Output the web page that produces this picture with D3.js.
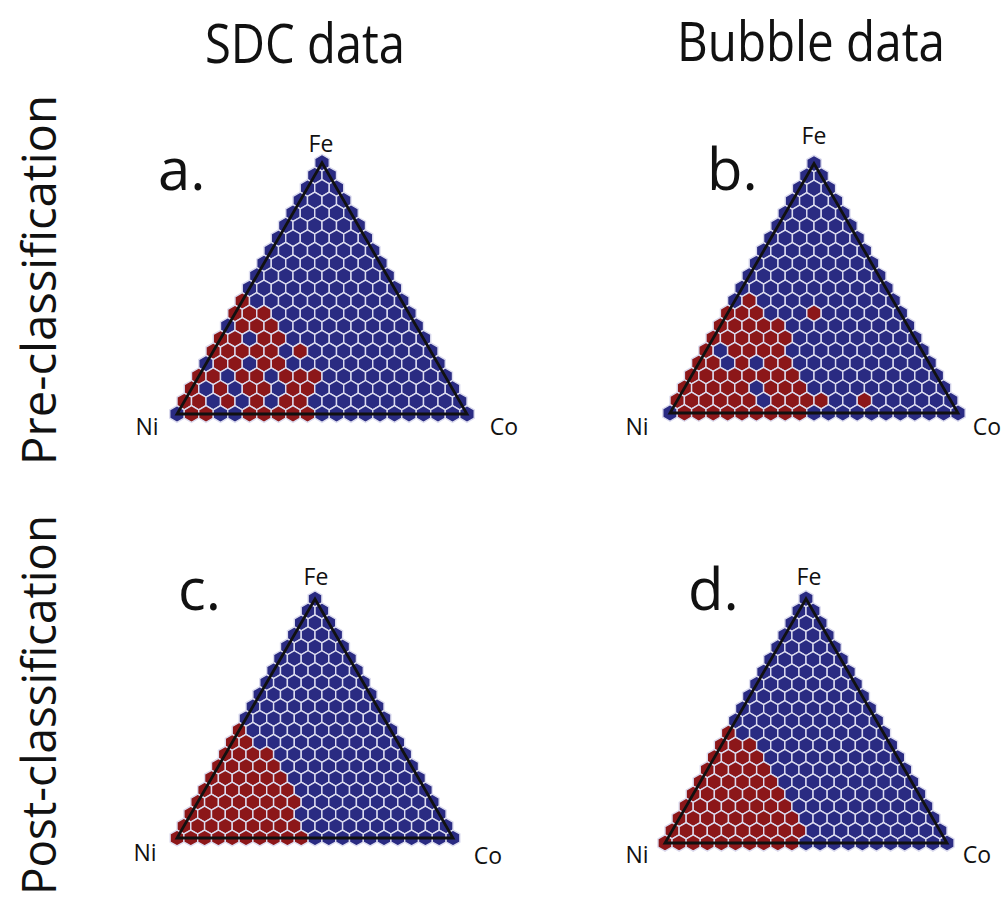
<!DOCTYPE html>
<html><head><meta charset="utf-8">
<script src="https://cdn.jsdelivr.net/npm/d3@7"></script>
<style>body{margin:0;background:#fff}svg{display:block}</style>
</head><body><svg id="chart" width="1006" height="901"></svg>
<script>
// ---------------- DATA ----------------
const corners = ["Fe", "Ni", "Co"];            // apex, left, right
const columnTitles = ["SDC data", "Bubble data"];
const rowTitles = ["Pre-classification", "Post-classification"];
const panelLetters = ["a.", "b.", "c.", "d."];
const gridSteps = 20;                            // composition grid 0..20 (5 % steps)
const classNames = { B: "cluster 1", R: "cluster 2" };

// Each string = one grid row, from the Fe apex (top) down to the Ni–Co edge;
// characters run from the Ni side to the Co side. B = blue class, R = red class.
const panelA = [
  "B","BB","BBB","BBBB","BBBBB","BBBBBB","BBBBBBB","BBBBBBBB","BBBBBBBBB","BBBBBBBBBB","BBBBBBBBBBB",
  "RBBBBBBBBBBB",
  "RRRBBBBBBBBBB",
  "BRRRBBBBBBBBBB",
  "RRBRRBBBBBBBBBB",
  "RRRRRBRBBBBBBBBB",
  "BRRBRRBBBBBBBBBBB",
  "RRBRRBRRRBBBBBBBBB",
  "RBRBRRBRRBBBBBBBBBB",
  "RRBRBRBRRBBBBBBBBBBB",
  "BRRBBRRRRRBBBBBBBBBBB"
];
const panelB = [
  "B","BB","BBB","BBBB","BBBBB","BBBBBB","BBBBBBB","BBBBBBBB","BBBBBBBBB","BBBBBBBBBB","BBBBBBBBBBB",
  "BRBBBBBBBBBB",
  "RRRBBBRBBBBBB",
  "RRRRRBBBBBBBBB",
  "RRRRRRBBBBBBBBB",
  "RBRRRRBBBBBBBBBB",
  "RRBRBRRBBBBBBBBBB",
  "RRRRRRRRBBBBBBBBBB",
  "RRRRRBRRRBBBBBBBBBB",
  "RRRRRRBRRRRBBRBBBBBB",
  "BRRRRRRRRRBBBBBBBBBBB"
];
const panelC = [
  "B","BB","BBB","BBBB","BBBBB","BBBBBB","BBBBBBB","BBBBBBBB","BBBBBBBBB","BBBBBBBBBB","BBBBBBBBBBB",
  "RBBBBBBBBBBB",
  "RRBBBBBBBBBBB",
  "RRRRBBBBBBBBBB",
  "RRRRRBBBBBBBBBB",
  "RRRRRRBBBBBBBBBB",
  "RRRRRRRBBBBBBBBBB",
  "RRRRRRRRBBBBBBBBBB",
  "RRRRRRRRBBBBBBBBBBB",
  "RRRRRRRRRBBBBBBBBBBB",
  "RRRRRRRRRRBBBBBBBBBBB"
];
const panelD = [
  "B","BB","BBB","BBBB","BBBBB","BBBBBB","BBBBBBB","BBBBBBBB","BBBBBBBBB","BBBBBBBBBB","BBBBBBBBBBB",
  "RBBBBBBBBBBB",
  "RRRBBBBBBBBBB",
  "RRRRBBBBBBBBBB",
  "RRRRRBBBBBBBBBB",
  "RRRRRRBBBBBBBBBB",
  "RRRRRRRBBBBBBBBBB",
  "RRRRRRRRBBBBBBBBBB",
  "RRRRRRRRRBBBBBBBBBB",
  "RRRRRRRRRRBBBBBBBBBB",
  "RRRRRRRRRRBBBBBBBBBBB"
];
const panelGrids = [panelA, panelB, panelC, panelD];

// ---------------- LAYOUT / STYLE ----------------
const colors = { B: "#2a2b82", R: "#8c1719" };
const panels = [
  { ni: [177, 414], co: [467, 414], letter: [158, 190], fe: [321, 152], niL: [147, 435], coL: [504, 435] },
  { ni: [670, 413], co: [958, 413], letter: [707, 190], fe: [814, 144], niL: [637, 435], coL: [987, 435] },
  { ni: [177, 838], co: [453, 838], letter: [178, 610], fe: [316, 585], niL: [145, 861], coL: [488, 864] },
  { ni: [665, 843], co: [947, 843], letter: [688, 610], fe: [809, 585], niL: [637, 863], coL: [977, 863] }
];

const svg = d3.select("#chart");
const font = "'Open Sans', 'DejaVu Sans', sans-serif";

panelGrids.forEach((grid, p) => {
  const L = panels[p];
  const width = L.co[0] - L.ni[0];
  const height = width * Math.sqrt(3) / 2;
  const xs = d3.scaleLinear().domain([0, 1]).range([L.ni[0], L.co[0]]);
  const ys = d3.scaleLinear().domain([0, 1]).range([L.ni[1], L.ni[1] - height]);
  const step = width / gridSteps;
  const rad = step / Math.sqrt(3);
  const hexPts = d3.range(6).map(k => {
    const a = (Math.PI / 180) * (-90 + 60 * k);
    return [rad * Math.cos(a), rad * Math.sin(a)];
  });
  const hexPath = d3.line()(hexPts) + "Z";

  const cells = [];
  grid.forEach((row, t) => {
    const r = gridSteps - t; // Fe index
    row.split("").forEach((c, i) => {
      const fe = r / gridSteps, co = i / gridSteps;
      cells.push({ fe, co, ni: 1 - fe - co, cls: c });
    });
  });

  const g = svg.append("g");
  g.selectAll("path.hex").data(cells).join("path")
    .attr("class", "hex")
    .attr("d", hexPath)
    .attr("transform", d => `translate(${xs(d.co + d.fe / 2)},${ys(d.fe)})`)
    .attr("fill", d => colors[d.cls])
    .attr("stroke", "#dcdcef")
    .attr("stroke-width", 1.4);

  const tri = [[0, 0], [1, 0], [0, 1]].map(([co, fe]) => [xs(co + fe / 2), ys(fe)]);
  g.append("path")
    .attr("d", d3.line()(tri) + "Z")
    .attr("fill", "none")
    .attr("stroke", "#111")
    .attr("stroke-width", 2.8)
    .attr("stroke-linejoin", "miter");

  // corner labels
  [[corners[0], L.fe], [corners[1], L.niL], [corners[2], L.coL]].forEach(([txt, pos]) => {
    g.append("text").attr("x", pos[0]).attr("y", pos[1])
      .attr("text-anchor", "middle").attr("font-family", font)
      .attr("font-size", 23).attr("fill", "#111").text(txt);
  });
  g.append("text").attr("x", L.letter[0]).attr("y", L.letter[1])
    .attr("font-family", font).attr("font-size", 58).attr("fill", "#111")
    .text(panelLetters[p]);
});

// column titles
const colPos = [[305, 63, 200], [811, 61, 268]];
columnTitles.forEach((t, k) => {
  svg.append("text").attr("x", colPos[k][0]).attr("y", colPos[k][1])
    .attr("text-anchor", "middle").attr("font-family", font).attr("font-size", 54)
    .attr("textLength", colPos[k][2]).attr("lengthAdjust", "spacingAndGlyphs")
    .attr("fill", "#111").text(t);
});
// row titles
const rowPos = [[56, 280, 370], [56, 705, 380]];
rowTitles.forEach((t, k) => {
  svg.append("text")
    .attr("transform", `translate(${rowPos[k][0]},${rowPos[k][1]}) rotate(-90)`)
    .attr("text-anchor", "middle").attr("font-family", font).attr("font-size", 48)
    .attr("textLength", rowPos[k][2]).attr("lengthAdjust", "spacingAndGlyphs")
    .attr("fill", "#111").text(t);
});
</script>
</body></html>
